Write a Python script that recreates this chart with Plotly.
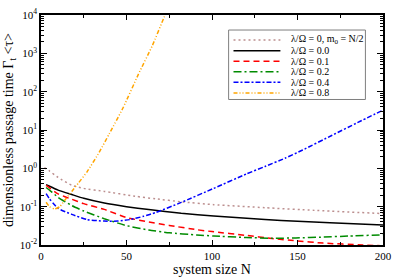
import plotly.graph_objects as go

# ---- data ----
N_pink = [2, 5, 10, 18, 25, 37, 55, 67, 82, 101, 131, 160, 200]
T_pink = [1.05, 0.85, 0.58, 0.36, 0.30, 0.25, 0.187, 0.16, 0.134, 0.113, 0.094, 0.080, 0.066]

N_00 = [3, 5, 10, 18, 25, 37, 50, 63, 82, 101, 131, 150, 169, 200]
T_00 = [0.376, 0.34, 0.27, 0.207, 0.165, 0.124, 0.10, 0.084, 0.067, 0.057, 0.046, 0.0417, 0.038, 0.033]

N_01 = [3, 5, 10, 18, 25, 37, 50, 63, 75, 91, 100, 120, 135, 149, 165, 188, 200]
T_01 = [0.36, 0.31, 0.215, 0.156, 0.12, 0.085, 0.052, 0.040, 0.0324, 0.0251, 0.0224, 0.0178, 0.0148,
        0.0129, 0.0112, 0.0100, 0.0095]

N_02 = [3, 5, 10, 18, 25, 37, 50, 63, 75, 91, 101, 120, 135, 149, 165, 180, 200]
T_02 = [0.316, 0.27, 0.175, 0.107, 0.077, 0.0486, 0.032, 0.0246, 0.0208, 0.0183, 0.0172, 0.0157, 0.0150,
        0.0153, 0.0161, 0.0171, 0.0185]

N_04 = [3, 5, 7.5, 10, 18, 27, 37, 45, 52, 60, 67, 82, 101, 120, 131, 143, 153, 170, 185, 200]
T_04 = [0.22, 0.16, 0.117, 0.09, 0.063, 0.046, 0.042, 0.042, 0.046, 0.056, 0.07, 0.129, 0.30, 0.71,
        1.12, 1.86, 3.0, 7.2, 15.5, 33.0]

N_08 = [3, 5, 8, 11, 14, 18, 22, 27, 34, 40, 48, 57, 65, 72, 76]
T_08 = [0.13, 0.10, 0.087, 0.10, 0.15, 0.25, 0.42, 0.82, 2.6, 8.1, 38, 287, 1550, 8700, 22000]

labels = ["λ/Ω = 0, m<sub>0</sub> = N/2", "λ/Ω = 0.0", "λ/Ω = 0.1", "λ/Ω = 0.2",
          "λ/Ω = 0.4", "λ/Ω = 0.8"]

y_tickvals = [1e-2, 1e-1, 1e0, 1e1, 1e2, 1e3, 1e4]
y_ticktext = ["10<sup>-2</sup>", "10<sup>-1</sup>", "10<sup>0</sup>", "10<sup>1</sup>",
              "10<sup>2</sup>", "10<sup>3</sup>", "10<sup>4</sup>"]

# ---- styles ----
FONT = "Liberation Serif, Times New Roman, serif"
styles = [
    dict(color="#bc8f8f", dash="2px,3px", width=1.5),
    dict(color="black", dash="solid", width=1.5),
    dict(color="#ff0000", dash="6px,4px", width=1.5),
    dict(color="#008b00", dash="8px,3px,2px,3px", width=1.5),
    dict(color="#0000ff", dash="5px,2px,2px,2px", width=1.5),
    dict(color="#ffa500", dash="4px,2px,1px,2px,1px,2px", width=1.5),
]
series = [(N_pink, T_pink), (N_00, T_00), (N_01, T_01), (N_02, T_02), (N_04, T_04), (N_08, T_08)]

fig = go.Figure()
for (xs, ys), st, lab in zip(series, styles, labels):
    fig.add_trace(go.Scatter(x=xs, y=ys, mode="lines", line=dict(shape="spline", smoothing=0.5, **st),
                             name=lab, showlegend=False))

W, H = 399, 280
ML, MR, MT, MB = 40, 9, 7, 28
PW, PH = W - ML - MR, H - MT - MB

def px_to_paper(px, py):
    return (px - ML) / PW, (H - MB - py) / PH

# ---- manual legend (compact, like the reference) ----
bx0, by0 = px_to_paper(232, 23)
bx1, by1 = px_to_paper(372, 97)
shapes = [dict(type="rect", xref="paper", yref="paper", x0=bx0, y0=by1, x1=bx1, y1=by0,
               line=dict(color="#7f7f7f", width=1), fillcolor="white", layer="above")]
annotations = []
entry_y = [33.5, 45, 56.2, 67.5, 78.7, 90]
for st, lab, ey in zip(styles, labels, entry_y):
    lx0, ly = px_to_paper(237, ey)
    lx1, _ = px_to_paper(285, ey)
    shapes.append(dict(type="line", xref="paper", yref="paper", x0=lx0, x1=lx1, y0=ly, y1=ly,
                       line=dict(color=st["color"], dash=st["dash"], width=st["width"]), layer="above"))
    tx, _ = px_to_paper(294, ey)
    annotations.append(dict(xref="paper", yref="paper", x=tx, y=ly, text=lab, showarrow=False,
                            xanchor="left", yanchor="middle", font=dict(family=FONT, size=10, color="black")))

y_minor = [k * 10.0 ** e for e in range(-2, 4) for k in range(2, 10)]

fig.update_layout(
    width=W, height=H,
    margin=dict(l=ML, r=MR, t=MT, b=MB),
    paper_bgcolor="white", plot_bgcolor="white",
    font=dict(family=FONT, color="black"),
    shapes=shapes, annotations=annotations,
    showlegend=False,
)
fig.update_xaxes(
    range=[0, 200], dtick=50, tick0=0,
    ticks="inside", ticklen=5, tickwidth=1, tickcolor="black",
    minor=dict(dtick=25, ticks="inside", ticklen=3, tickcolor="black"),
    showline=True, linecolor="black", linewidth=1.5, mirror="ticks",
    showgrid=False, zeroline=False,
    tickfont=dict(family=FONT, size=11),
    title=dict(text="system size N", font=dict(family=FONT, size=14), standoff=1),
)
fig.update_yaxes(
    type="log", range=[-2, 4],
    tickmode="array", tickvals=y_tickvals, ticktext=y_ticktext,
    ticks="inside", ticklen=6, tickwidth=1, tickcolor="black",
    minor=dict(tickmode="array", tickvals=y_minor, ticks="inside", ticklen=3, tickcolor="black"),
    showline=True, linecolor="black", linewidth=1.5, mirror="ticks",
    showgrid=False, zeroline=False,
    tickfont=dict(family=FONT, size=11),
    title=dict(text="dimensionless passage time Γ<sub>t</sub> &lt;τ&gt;", font=dict(family=FONT, size=14),
               standoff=3),
)

fig.write_html("out.html", config={"displayModeBar": False},
               post_script="document.body.style.margin='0px';document.body.style.overflow='hidden';")
